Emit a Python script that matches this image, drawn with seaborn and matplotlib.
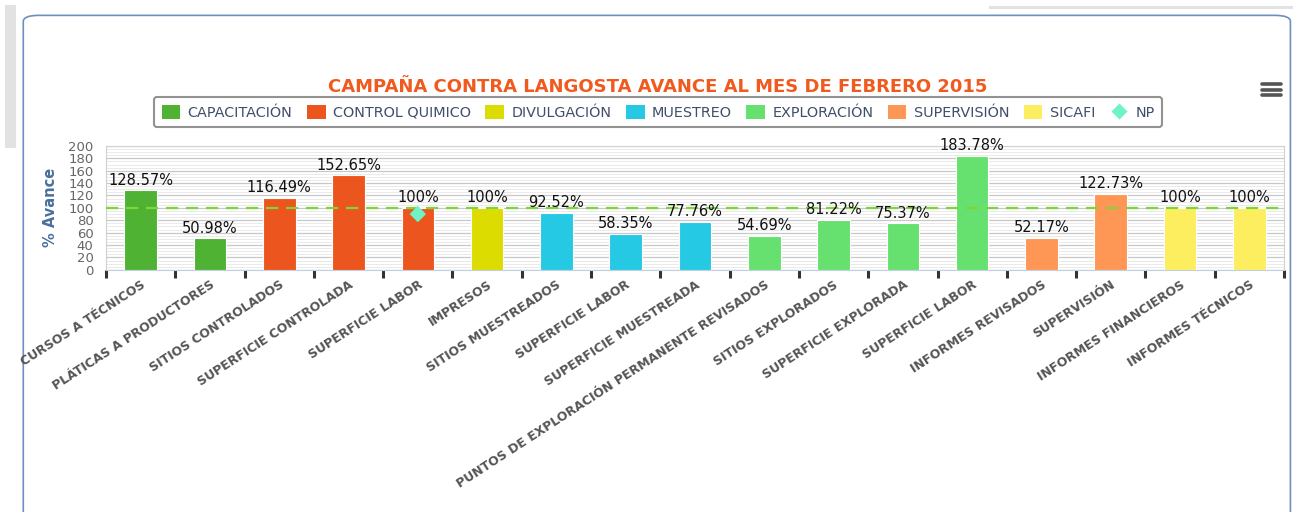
import numpy as np
import pandas as pd
import matplotlib
matplotlib.use("Agg")
import matplotlib.pyplot as plt
import seaborn as sns
from matplotlib.patches import FancyBboxPatch, Rectangle, Patch
from matplotlib.lines import Line2D

# Data
categories = [
    "CURSOS A TÉCNICOS", "PLÁTICAS A PRODUCTORES", "SITIOS CONTROLADOS",
    "SUPERFICIE CONTROLADA", "SUPERFICIE LABOR", "IMPRESOS",
    "SITIOS MUESTREADOS", "SUPERFICIE LABOR ", "SUPERFICIE MUESTREADA",
    "PUNTOS DE EXPLORACIÓN PERMANENTE REVISADOS", "SITIOS EXPLORADOS",
    "SUPERFICIE EXPLORADA", "SUPERFICIE LABOR  ", "INFORMES REVISADOS",
    "SUPERVISIÓN", "INFORMES FINANCIEROS", "INFORMES TÉCNICOS",
]
groups = [
    "CAPACITACIÓN", "CAPACITACIÓN", "CONTROL QUIMICO", "CONTROL QUIMICO",
    "CONTROL QUIMICO", "DIVULGACIÓN", "MUESTREO", "MUESTREO", "MUESTREO",
    "EXPLORACIÓN", "EXPLORACIÓN", "EXPLORACIÓN", "EXPLORACIÓN",
    "SUPERVISIÓN", "SUPERVISIÓN", "SICAFI", "SICAFI",
]
values = [128.57, 50.98, 116.49, 152.65, 100, 100, 92.52, 58.35, 77.76,
          54.69, 81.22, 75.37, 183.78, 52.17, 122.73, 100, 100]
labels = ["128.57%", "50.98%", "116.49%", "152.65%", "100%", "100%", "92.52%",
          "58.35%", "77.76%", "54.69%", "81.22%", "75.37%", "183.78%",
          "52.17%", "122.73%", "100%", "100%"]
np_category = "SUPERFICIE LABOR"
np_value = 90
target = 100

group_order = ["CAPACITACIÓN", "CONTROL QUIMICO", "DIVULGACIÓN", "MUESTREO",
               "EXPLORACIÓN", "SUPERVISIÓN", "SICAFI"]
group_colors = ["#4fb233", "#ec561e", "#dcdc00", "#26c9e3", "#66e16f",
                "#fe9656", "#fdee60"]
np_color = "#6ff2c4"

df = pd.DataFrame({"cat": categories, "grupo": groups, "avance": values})

fig = plt.figure(figsize=(12.93, 5.12), dpi=100)

# page / panel decoration (behind everything)
fig.patches.append(Rectangle((0.004, 0.71), 0.008, 0.28, transform=fig.transFigure,
                             facecolor="#e2e2e2", edgecolor="none", zorder=-3))
fig.patches.append(Rectangle((0.765, 0.982), 0.235, 0.006, transform=fig.transFigure,
                             facecolor="#e2e2e2", edgecolor="none", zorder=-3))
fig.patches.append(FancyBboxPatch((0.018, -0.02), 0.98, 0.99, transform=fig.transFigure,
                                  boxstyle="round,pad=0,rounding_size=0.012",
                                  facecolor="white", edgecolor="#6f8fbf", linewidth=1.2,
                                  zorder=-2))

ax = fig.add_axes([0.082, 0.473, 0.911, 0.242])
sns.barplot(data=df, x="cat", y="avance", hue="grupo", hue_order=group_order,
            palette=group_colors, saturation=1, dodge=False, width=0.47, ax=ax,
            legend=False, edgecolor="white", linewidth=0.8, zorder=3)

ax.set_ylim(0, 200)
ax.set_xlim(-0.5, len(categories) - 0.5)
ax.set_yticks(np.arange(0, 201, 20))
ax.set_yticks(np.arange(0, 201, 5), minor=True)
ax.set_axisbelow(True)
ax.grid(axis="y", which="major", color="#c8c8c8", linewidth=0.9)
ax.grid(axis="y", which="minor", color="#e6e6e6", linewidth=0.6)
ax.set_facecolor("white")
for s in ["top", "right", "left"]:
    ax.spines[s].set_color("#d0d0d0")
    ax.spines[s].set_linewidth(0.8)
ax.spines["bottom"].set_color("#c0d0e0")

ax.tick_params(axis="y", which="both", length=0, labelsize=9.5, colors="#666666", pad=9)
ax.tick_params(axis="x", which="major", length=0, pad=6)
ax.set_xticks(np.arange(-0.5, len(categories), 1), minor=True)
ax.tick_params(axis="x", which="minor", length=6, width=2.2, color="#333333")
ax.set_xticks(np.arange(len(categories)))
ax.set_xticklabels([c.strip() for c in categories], rotation=33, ha="right",
                   rotation_mode="anchor", fontsize=9, fontweight="bold", color="#555555")

ax.set_xlabel("")
ax.set_ylabel("% Avance", fontsize=10.5, fontweight="bold", color="#4a6f9e", labelpad=7)

# target line
ax.axhline(target, color="#7fd43a", linestyle=(0, (5.5, 3.5)), linewidth=1.6, zorder=4)

# NP marker
np_x = categories.index(np_category)
ax.scatter([np_x], [np_value], marker="D", s=70, color=np_color, zorder=5,
           edgecolor="none")

# value labels
for i, (v, t) in enumerate(zip(values, labels)):
    ax.text(i, v + 4, t, ha="center", va="bottom", fontsize=10.5, color="#111111",
            zorder=6, clip_on=False)

fig.text(0.509, 0.83, "CAMPAÑA CONTRA LANGOSTA AVANCE AL MES DE FEBRERO 2015",
         ha="center", va="center", fontsize=13, fontweight="bold", color="#f05a1e")

handles = [Patch(facecolor=c, edgecolor="none", label=g) for g, c in zip(group_order, group_colors)]
handles.append(Line2D([], [], marker="D", linestyle="none", markersize=8,
                      markerfacecolor=np_color, markeredgecolor="none", label="NP"))
leg = fig.legend(handles=handles, loc="center", bbox_to_anchor=(0.509, 0.781), ncol=8,
                 frameon=True, fontsize=10.4, handlelength=1.3, handleheight=1.1,
                 handletextpad=0.5, columnspacing=1.0, borderpad=0.5, fancybox=True,
                 shadow=False)
leg.get_frame().set_edgecolor("#777777")
leg.get_frame().set_linewidth(1.5)
for txt in leg.get_texts():
    txt.set_color("#3e4f6a")

# menu icon
for yy in [0.836, 0.825, 0.814]:
    fig.lines.append(Line2D([0.976, 0.991], [yy, yy], transform=fig.transFigure,
                            color="#555555", linewidth=2.6, solid_capstyle="round"))

fig.savefig("out.png", dpi=100)
